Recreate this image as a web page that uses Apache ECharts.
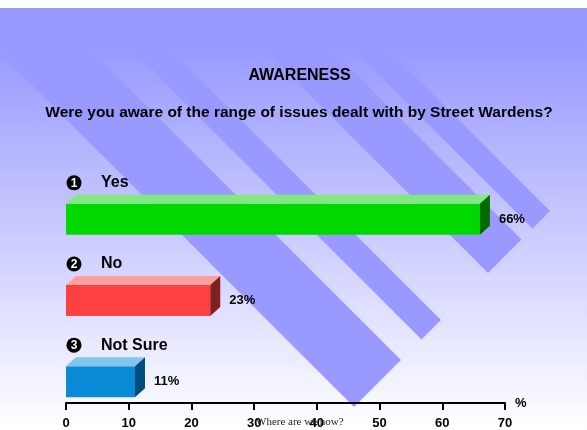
<!DOCTYPE html>
<html>
<head>
<meta charset="utf-8">
<script src="https://cdn.jsdelivr.net/npm/echarts@6/dist/echarts.min.js"></script>
<style>
    html, body { margin: 0; padding: 0; background: #fff; }
    #main { width: 587px; height: 430px; }
</style>
</head>
<body>
<div id="main"></div>
<script>
// data
var categories = ['Yes', 'No', 'Not Sure'];
var percents = [66, 23, 11];
var xTicks = [0, 10, 20, 30, 40, 50, 60, 70];

// front / top / side colours of each 3d bar
var barColors = [
    ['#00d800', '#80ea80', '#006c00'],
    ['#ff4040', '#ffa0a0', '#802020'],
    ['#0a8ad6', '#80c6ee', '#004c7a']
];

var FONT = '"Liberation Sans", Arial, sans-serif';
var myChart = echarts.init(document.getElementById('main'));

function renderBar(params, api) {
    var idx = api.value(1);
    var base = api.coord([0, idx]);
    var tip = api.coord([api.value(0), idx]);
    var h = 31, d = 10, dy = 9;
    var y0 = base[1] - h / 2, y1 = base[1] + h / 2;
    var c = barColors[idx];
    var labelY = base[1] - 36.5;
    return {
        type: 'group',
        children: [{// front
            type: 'rect',
            shape: { x: base[0], y: y0, width: tip[0] - base[0], height: h },
            style: { fill: c[0] }
        }, {// top
            type: 'polygon',
            shape: { points: [[base[0], y0], [base[0] + d, y0 - dy], [tip[0] + d, y0 - dy], [tip[0], y0]] },
            style: { fill: c[1] }
        }, {// side
            type: 'polygon',
            shape: { points: [[tip[0], y0], [tip[0] + d, y0 - dy], [tip[0] + d, y1 - dy], [tip[0], y1]] },
            style: { fill: c[2] }
        }, {
            type: 'text',
            style: {
                text: api.value(0) + '%', x: tip[0] + 19, y: base[1],
                fill: '#000', font: 'bold 13px ' + FONT, align: 'left', verticalAlign: 'middle'
            }
        }, {
            type: 'circle',
            shape: { cx: base[0] + 8, cy: labelY, r: 7.5 },
            style: { fill: '#000' }
        }, {
            type: 'text',
            style: {
                text: String(idx + 1), x: base[0] + 8, y: labelY + 0.5,
                fill: '#fff', font: 'bold 12px ' + FONT, align: 'center', verticalAlign: 'middle'
            }
        }, {
            type: 'text',
            style: {
                text: categories[idx], x: base[0] + 35, y: labelY,
                fill: '#000', font: 'bold 16px ' + FONT, align: 'left', verticalAlign: 'middle'
            }
        }]
    };
}

// diagonal background stripes
function stripe(left, right) {
    var e = 761, top = 8;
    return {
        type: 'polygon',
        z: -19,
        silent: true,
        shape: { points: [
            [top + left, top], [top + right, top],
            [(e + right) / 2, (e - right) / 2], [(e + left) / 2, (e - left) / 2]
        ] },
        style: { fill: '#9999ff' }
    };
}

var option = {
    backgroundColor: '#ffffff',
    animation: false,
    title: [{
        text: 'AWARENESS',
        left: 294.5,
        textAlign: 'center',
        top: 63,
        textStyle: { color: '#000', fontSize: 16, fontWeight: 'bold', fontFamily: FONT }
    }, {
        text: 'Were you aware of the range of issues dealt with by Street Wardens?',
        left: 294,
        textAlign: 'center',
        top: 100,
        textStyle: { color: '#000', fontSize: 15.5, fontWeight: 'bold', fontFamily: FONT }
    }],
    graphic: [{
        type: 'rect',
        z: -20,
        silent: true,
        shape: { x: 0, y: 8, width: 587, height: 422 },
        style: {
            fill: new echarts.graphic.LinearGradient(0, 0, 0, 1, [
                { offset: 0, color: '#9999ff' },
                { offset: 0.09, color: '#9999ff' },
                { offset: 1, color: '#ffffff' }
            ])
        }
    },
        stripe(-53, 41),
        stripe(82, 121),
        stripe(215, 282),
        stripe(304, 339),
    {
        type: 'text',
        left: 256,
        top: 417,
        z: 10,
        style: { text: 'Where are we now?', fill: '#222', font: '11px "Liberation Serif", "Times New Roman", serif' }
    }],
    grid: {
        left: 66,
        right: 82,
        top: 178.75,
        bottom: 6.75
    },
    xAxis: {
        type: 'value',
        min: xTicks[0],
        max: xTicks[xTicks.length - 1],
        interval: xTicks[1] - xTicks[0],
        offset: -19.25,
        name: '%',
        nameLocation: 'end',
        nameGap: 10,
        nameTextStyle: { color: '#000', fontSize: 13, fontWeight: 'bold', fontFamily: FONT, verticalAlign: 'middle', padding: [0, 0, 2, 0] },
        axisLine: { show: true, lineStyle: { color: '#000', width: 2 } },
        axisTick: { show: true, length: 7, lineStyle: { color: '#000', width: 2 } },
        axisLabel: { color: '#000', fontSize: 13, fontWeight: 'bold', fontFamily: FONT, margin: 14 },
        splitLine: { show: false }
    },
    yAxis: {
        type: 'category',
        inverse: true,
        data: categories,
        show: false
    },
    series: [{
        type: 'custom',
        renderItem: renderBar,
        clip: false,
        encode: { x: 0, y: 1 },
        data: percents.map(function (v, i) { return [v, i]; })
    }]
};
myChart.setOption(option);
</script>
</body>
</html>
